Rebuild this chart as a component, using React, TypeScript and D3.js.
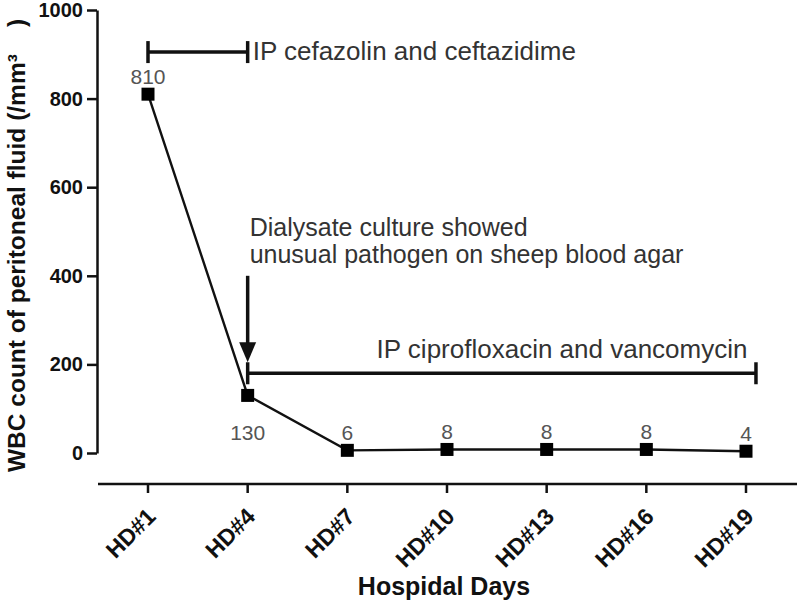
import React, { useEffect, useRef } from "react";
import * as d3 from "d3";

const days = ["HD#1", "HD#4", "HD#7", "HD#10", "HD#13", "HD#16", "HD#19"];
const dayNums = [1, 4, 7, 10, 13, 16, 19];
const wbc = [810, 130, 6, 8, 8, 8, 4];
const yTicks = [0, 200, 400, 600, 800, 1000];

// annotations (day number / WBC units)
const bracket1 = { from: 1, to: 4, y: 905, label: "IP cefazolin and ceftazidime" };
const bracket2 = { from: 4, to: 19.3, y: 180, label: "IP ciprofloxacin and vancomycin" };
const arrowNote = { day: 4, from: 400, to: 205, lines: ["Dialysate culture showed", "unusual pathogen on sheep blood agar"] };

const W = 800;
const H = 602;
const FONT = "'Liberation Sans', Arial, sans-serif";

const App = () => {
  const svgRef = useRef<SVGSVGElement>(null);

  useEffect(() => {
    const svg = d3.select(svgRef.current);
    svg.selectAll("*").remove();

    const x = d3.scaleLinear().domain([1, 19]).range([148, 746]);
    const y = d3.scaleLinear().domain([0, 1000]).range([453, 10]);

    const g = svg.append("g").attr("font-family", FONT);

    // y axis
    const yAxis = d3
      .axisLeft(y)
      .tickValues(yTicks)
      .tickFormat(d3.format("d"))
      .tickSize(10)
      .tickPadding(4)
      .tickSizeOuter(0);
    const ya = g.append("g").attr("transform", "translate(97,0)").call(yAxis);
    ya.select(".domain").attr("stroke-width", 2.5).attr("stroke", "#111");
    ya.selectAll(".tick line").attr("stroke-width", 2.5).attr("stroke", "#111");
    ya.selectAll(".tick text")
      .attr("font-size", 20)
      .attr("font-weight", "bold")
      .attr("font-family", FONT)
      .attr("fill", "#111");

    // x axis (offset, Prism style)
    const xa = g.append("g").attr("transform", "translate(0,484)");
    xa.append("line").attr("x1", 98).attr("x2", 797).attr("stroke", "#111").attr("stroke-width", 2.5);
    xa.selectAll("line.tk")
      .data(dayNums)
      .enter()
      .append("line")
      .attr("class", "tk")
      .attr("x1", (d) => x(d))
      .attr("x2", (d) => x(d))
      .attr("y1", 0)
      .attr("y2", 9)
      .attr("stroke", "#111")
      .attr("stroke-width", 2.5);
    xa.selectAll("text")
      .data(days)
      .enter()
      .append("text")
      .attr("transform", (d, i) => `translate(${x(dayNums[i]) + 9},34) rotate(-45)`)
      .attr("text-anchor", "end")
      .attr("font-size", 23)
      .attr("font-weight", "bold")
      .attr("fill", "#111")
      .text((d) => d);

    // axis titles
    g.append("text")
      .attr("x", 444)
      .attr("y", 595)
      .attr("text-anchor", "middle")
      .attr("font-size", 25)
      .attr("font-weight", "bold")
      .attr("fill", "#111")
      .text("Hospidal Days");

    g.append("text")
      .attr("transform", "translate(25,472) rotate(-90)")
      .attr("text-anchor", "start")
      .attr("font-size", 24.5)
      .attr("font-weight", "bold")
      .attr("fill", "#111")
      .text("WBC count of peritoneal fluid (/mm\u00B3\u00A0\u00A0\u00A0\u00A0)");

    // brackets
    const drawBracket = (b: typeof bracket1) => {
      const by = y(b.y);
      g.append("line").attr("x1", x(b.from)).attr("x2", x(b.to)).attr("y1", by).attr("y2", by)
        .attr("stroke", "#111").attr("stroke-width", 3.5);
      [b.from, b.to].forEach((d) => {
        g.append("line").attr("x1", x(d)).attr("x2", x(d)).attr("y1", by - 11).attr("y2", by + 11)
          .attr("stroke", "#111").attr("stroke-width", 3.5);
      });
    };
    drawBracket(bracket1);
    drawBracket(bracket2);

    g.append("text")
      .attr("x", x(bracket1.to) + 5)
      .attr("y", y(bracket1.y) + 8)
      .attr("font-size", 26)
      .attr("fill", "#333")
      .text(bracket1.label);

    g.append("text")
      .attr("x", 562)
      .attr("y", y(bracket2.y) - 15)
      .attr("text-anchor", "middle")
      .attr("font-size", 26)
      .attr("fill", "#333")
      .text(bracket2.label);

    // arrow
    const ax = x(arrowNote.day);
    const tip = y(arrowNote.to);
    g.append("line").attr("x1", ax).attr("x2", ax).attr("y1", y(arrowNote.from)).attr("y2", tip - 15)
      .attr("stroke", "#111").attr("stroke-width", 3.5);
    g.append("path")
      .attr("d", `M${ax - 8.5},${tip - 20} L${ax + 8.5},${tip - 20} L${ax},${tip} Z`)
      .attr("fill", "#111");
    arrowNote.lines.forEach((t, i) => {
      g.append("text")
        .attr("x", ax + 2)
        .attr("y", 236 + i * 27)
        .attr("font-size", 25)
        .attr("fill", "#333")
        .text(t);
    });

    // data line + markers
    const line = d3.line<number>().x((d, i) => x(dayNums[i])).y((d) => y(d));
    g.append("path").datum(wbc).attr("d", line).attr("fill", "none").attr("stroke", "#111").attr("stroke-width", 2.4);
    g.selectAll("rect.pt")
      .data(wbc)
      .enter()
      .append("rect")
      .attr("class", "pt")
      .attr("x", (d, i) => x(dayNums[i]) - 6.5)
      .attr("y", (d) => y(d) - 6.5)
      .attr("width", 13)
      .attr("height", 13)
      .attr("fill", "#000");

    g.selectAll("text.val")
      .data(wbc)
      .enter()
      .append("text")
      .attr("class", "val")
      .attr("x", (d, i) => x(dayNums[i]))
      .attr("y", (d, i) => (i === 1 ? y(d) + 45 : y(d) - 10))
      .attr("text-anchor", "middle")
      .attr("font-size", 21)
      .attr("fill", "#555")
      .text((d) => d);
  }, []);

  return (
    <svg
      ref={svgRef}
      width={W}
      height={H}
      style={{ position: "absolute", left: 0, top: 0, background: "#fff" }}
    />
  );
};

export default App;
